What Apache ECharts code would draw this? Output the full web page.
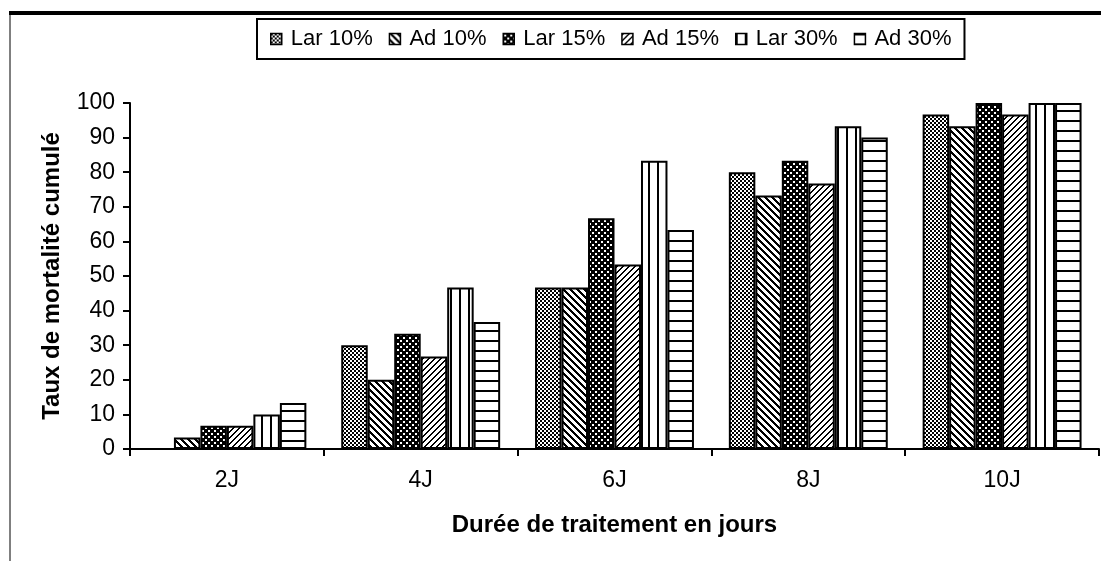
<!DOCTYPE html>
<html>
<head>
<meta charset="utf-8">
<title>Taux de mortalité cumulé</title>
<script src="https://cdn.jsdelivr.net/npm/echarts@6/dist/echarts.min.js"></script>
<style>
  html, body { margin: 0; padding: 0; background: #fff; }
  #chart { width: 1101px; height: 561px; }
</style>
</head>
<body>
<div id="chart"></div>
<script>
const categories = ['2J', '4J', '6J', '8J', '10J']
const seriesNames = ['Lar 10%', 'Ad 10%', 'Lar 15%', 'Ad 15%', 'Lar 30%', 'Ad 30%']

const lar10 = [0, 30, 46.7, 80, 96.7]
const ad10 = [3.3, 20, 46.7, 73.3, 93.3]
const lar15 = [6.7, 33.3, 66.7, 83.3, 100]
const ad15 = [6.7, 26.7, 53.3, 76.7, 96.7]
const lar30 = [10, 46.7, 83.3, 93.3, 100]
const ad30 = [13.3, 36.7, 63.3, 90, 100]

const seriesData = [lar10, ad10, lar15, ad15, lar30, ad30]
const yTicks = { min: 0, max: 100, interval: 10 }

const FONT = '"Liberation Sans", Arial, sans-serif'

// small black & white tiles, used as fill patterns like the old excel hatching
const makeTile = (w, h, isBlack) => {
  const c = document.createElement('canvas')
  c.width = w
  c.height = h
  const ctx = c.getContext('2d')
  const img = ctx.createImageData(w, h)
  for (let y = 0; y < h; y++) {
    for (let x = 0; x < w; x++) {
      const v = isBlack(x, y) ? 0 : 255
      const i = (y * w + x) * 4
      img.data[i] = v
      img.data[i + 1] = v
      img.data[i + 2] = v
      img.data[i + 3] = 255
    }
  }
  ctx.putImageData(img, 0, 0)
  return { image: c, repeat: 'repeat' }
}

const patterns = [
  // Lar 10% : fine checker
  makeTile(4, 4, (x, y) => ((x >> 1) + (y >> 1)) % 2 === 0),
  // Ad 10% : "\" hatching
  makeTile(7, 7, (x, y) => ((x - y + 7) % 7) < 3),
  // Lar 15% : black with small white spots
  makeTile(6, 6, (x, y) => {
    const a = x >= 1 && x <= 2 && y >= 1 && y <= 2
    const b = x >= 4 && x <= 5 && y >= 4 && y <= 5
    return !(a || b)
  }),
  // Ad 15% : "/" hatching
  makeTile(6, 6, (x, y) => ((x + y) % 6) < 2),
  // Lar 30% : vertical lines
  makeTile(9, 1, (x) => x < 2),
  // Ad 30% : horizontal lines
  makeTile(1, 10, (x, y) => y < 2)
]

const chart = echarts.init(document.getElementById('chart'))

const option = {
  backgroundColor: '#fff',
  animation: false,
  textStyle: { fontFamily: FONT, color: '#000' },
  legend: {
    left: 257,
    top: 19,
    padding: [9, 13, 9, 13],
    borderColor: '#000',
    borderWidth: 2,
    itemWidth: 11,
    itemHeight: 11,
    itemGap: 16,
    icon: 'rect',
    itemStyle: { borderColor: '#000', borderWidth: 1.5 },
    textStyle: {
      fontFamily: FONT,
      fontSize: 22,
      color: '#000',
      padding: [0, 0, 0, 4]
    },
    data: seriesNames
  },
  grid: {
    left: 130,
    right: 2,
    top: 103,
    bottom: 112,
    containLabel: false
  },
  xAxis: {
    type: 'category',
    data: categories,
    name: 'Durée de traitement en jours',
    nameLocation: 'middle',
    nameGap: 64,
    nameTextStyle: { fontFamily: FONT, fontSize: 24, fontWeight: 'bold', color: '#000' },
    axisLine: { lineStyle: { color: '#000', width: 2 } },
    axisTick: { show: true, length: 7, lineStyle: { color: '#000', width: 2 } },
    axisLabel: { fontFamily: FONT, fontSize: 23, color: '#000', margin: 20 },
    splitLine: { show: false }
  },
  yAxis: {
    type: 'value',
    min: yTicks.min,
    max: yTicks.max,
    interval: yTicks.interval,
    name: 'Taux de mortalité cumulé',
    nameLocation: 'middle',
    nameGap: 66,
    nameTextStyle: { fontFamily: FONT, fontSize: 24, fontWeight: 'bold', color: '#000' },
    axisLine: { show: true, lineStyle: { color: '#000', width: 2 } },
    axisTick: { show: true, length: 7, lineStyle: { color: '#000', width: 2 } },
    axisLabel: { fontFamily: FONT, fontSize: 23, color: '#000', margin: 15 },
    splitLine: { show: false }
  },
  // only the top and left edges of the frame are left in the picture
  graphic: [
    {
      type: 'line',
      shape: { x1: 9, y1: 13, x2: 1101, y2: 13 },
      style: { stroke: '#000', lineWidth: 4 }
    },
    {
      type: 'line',
      shape: { x1: 10, y1: 11, x2: 10, y2: 561 },
      style: { stroke: '#000', lineWidth: 1 }
    }
  ],
  series: seriesNames.map((name, i) => ({
    name,
    type: 'bar',
    data: seriesData[i],
    barGap: '0%',
    barCategoryGap: '18%',
    itemStyle: {
      color: patterns[i],
      borderColor: '#000',
      borderWidth: 2
    }
  }))
}

chart.setOption(option)
window.addEventListener('resize', () => chart.resize())
</script>
</body>
</html>
